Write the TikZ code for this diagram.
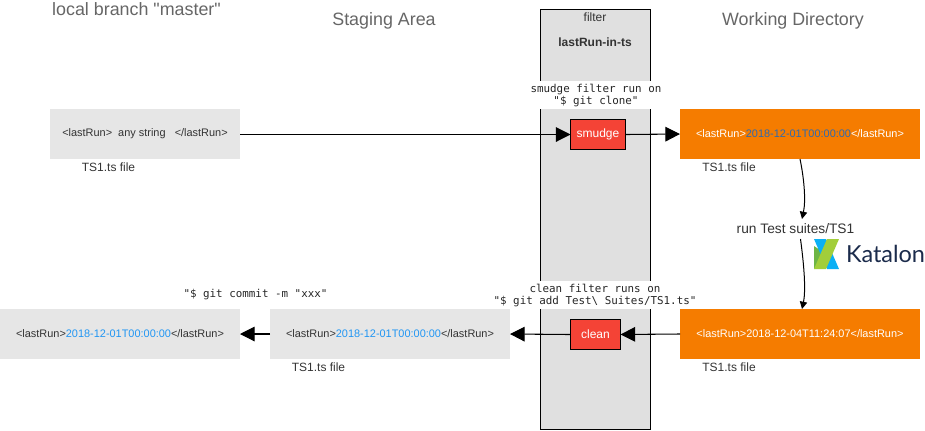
\documentclass[tikz,border=0pt]{standalone}
\usepackage{fontspec}
\setmainfont{Liberation Sans}
\newfontfamily\headfont{Liberation Sans}
\newfontfamily\codefont{DejaVu Sans Mono}
\newfontfamily\logofont{Lato}
\usetikzlibrary{arrows.meta,calc}
\definecolor{txt}{HTML}{333333}
\definecolor{head}{HTML}{666666}
\definecolor{bluetxt}{HTML}{2196F3}
\definecolor{darkblue}{HTML}{2F6AAE}
\definecolor{panel}{HTML}{E6E6E6}
\definecolor{filterbg}{HTML}{E0E0E0}
\definecolor{redbox}{HTML}{F44336}
\definecolor{orangebox}{HTML}{F57C00}
\definecolor{navy}{HTML}{1B2B4B}
\definecolor{logogreen}{HTML}{6DB544}
\definecolor{logolime}{HTML}{A2CE3A}
\definecolor{logoblue}{HTML}{0AB0F5}
\tikzset{
  x=0.75pt,y=-0.75pt,
  every node/.style={inner sep=0pt,outer sep=0pt,align=center},
  flow/.style={draw=black,line width=0.8pt,-{Triangle[length=11pt,width=11pt]}},
  thinflow/.style={draw=black,line width=0.75pt,-{Triangle[length=5.5pt,width=5.5pt]}},
  grayfile/.style={fill=panel,minimum height=37.5pt,text=txt,font=\fontsize{8.2pt}{10pt}\selectfont},
  orangefile/.style={fill=orangebox,minimum width=180pt,minimum height=37.5pt,text=white,font=\fontsize{8.2pt}{10pt}\selectfont},
  filterstep/.style={draw=black,line width=0.75pt,fill=redbox,minimum height=22.5pt,text=white,font=\fontsize{9pt}{11pt}\selectfont},
  heading/.style={text=head,font=\headfont\fontsize{13.4pt}{16pt}\selectfont},
  filelabel/.style={text=txt,font=\fontsize{9pt}{11pt}\selectfont},
  codelabel/.style={fill=white,text=black!85,font=\codefont\fontsize{8.15pt}{9pt}\selectfont},
}
\begin{document}
\begin{tikzpicture}
\useasboundingbox (0,0) rectangle (925,430);
\node[draw=black,line width=0.75pt,fill=filterbg,minimum width=82.5pt,minimum height=314.5pt] (filterbox) at (595.5,219.5) {};
\node[text=txt,font=\fontsize{9pt}{11pt}\selectfont] (filtertitle) at (595,17.5) {filter};
\node[text=txt,font=\bfseries\fontsize{9pt}{11pt}\selectfont] (filtername) at (595,42) {lastRun-in-ts};

\node[heading] (hmaster) at (136.5,9.5) {local branch "master"};
\node[heading] (hstage) at (384,20.5) {Staging Area};
\node[heading] (hwork) at (793,20.5) {Working Directory};

\node[grayfile,minimum width=142.5pt] (master) at (145,134) {\textless lastRun\textgreater\ \ any string \ \ \textless/lastRun\textgreater};
\node[orangefile] (wtop) at (800,134) {\textless lastRun\textgreater\textcolor{darkblue}{2018-12-01T00:00:00}\textless/lastRun\textgreater};
\node[orangefile] (wbot) at (800,334) {\textless lastRun\textgreater 2018-12-04T11:24:07\textless/lastRun\textgreater};
\node[grayfile,minimum width=180pt] (stage) at (390,334) {\textless lastRun\textgreater\textcolor{bluetxt}{2018-12-01T00:00:00}\textless/lastRun\textgreater};
\node[grayfile,minimum width=180pt] (local) at (120,334) {\textless lastRun\textgreater\textcolor{bluetxt}{2018-12-01T00:00:00}\textless/lastRun\textgreater};

\node[codelabel,minimum width=99pt,minimum height=21pt] (smudgenote) at (596,95.3) {smudge filter run on\\"\$ git clone"};
\node[codelabel,minimum width=156pt,minimum height=21pt] (cleannote) at (595,295.3) {clean filter runs on\\"\$ git add Test\textbackslash\ Suites/TS1.ts"};
\node[font=\codefont\fontsize{8.15pt}{9pt}\selectfont,text=black!85] (commitnote) at (255.5,295) {"\$ git commit -m "xxx"};

\node[filterstep,minimum width=41.25pt] (smudge) at (598,134.5) {smudge};
\node[filterstep,minimum width=37.5pt] (clean) at (595.5,334.5) {clean};

\node[filelabel] (f1) at (108.5,167) {TS1.ts file};
\node[filelabel] (f2) at (729,167) {TS1.ts file};
\node[filelabel] (f3) at (318.5,367) {TS1.ts file};
\node[filelabel] (f4) at (729,367) {TS1.ts file};

\node[fill=white,text=txt,font=\fontsize{10.3pt}{12pt}\selectfont,minimum height=15pt] (run) at (795.5,229) {run Test suites/TS1};

% Katalon logo
\fill[logogreen] (814,246) -- (814,269) -- (826,254) -- cycle;
\fill[logoblue] (814,239) -- (826,239) -- (839,269) -- (827,269) -- cycle;
\fill[logolime] (827,239) -- (839,239) -- (826,269) -- (814,269) -- cycle;
\node[text=navy,anchor=west,font=\logofont\fontsize{17.6pt}{20pt}\selectfont] (katalon) at (846,254) {Katalon};

\draw[flow] (master.east |- smudge.west) -- (smudge.west);
\draw[flow] (smudge.east) -- (wtop.west);
\draw[flow] (wbot.west) -- (clean.east);
\draw[flow] (clean.west) -- (stage.east);
\draw[flow] (stage.west) -- (local.east);
\draw[thinflow] (wtop.south) .. controls (804,178) and (806,200) .. ($(run.north)+(6.5,0)$);
\draw[thinflow] ($(run.south)+(5,0)$) .. controls (804,265) and (806,290) .. ($(wbot.north)+(2,0)$);
\end{tikzpicture}
\end{document}
